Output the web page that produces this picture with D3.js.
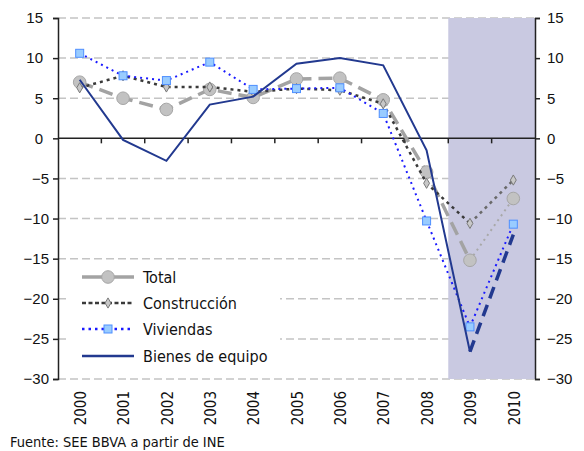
<!DOCTYPE html>
<html>
<head>
<meta charset="utf-8">
<script src="https://cdn.jsdelivr.net/npm/d3@7"></script>
<style>
  body { margin: 0; background: #fff; }
  svg { font-family: "DejaVu Sans Condensed", "DejaVu Sans", sans-serif; font-stretch: condensed; }
</style>
</head>
<body>
<svg width="584" height="451"></svg>
<script>
// data
var years = ["2000", "2001", "2002", "2003", "2004", "2005", "2006", "2007", "2008", "2009", "2010"];
var total = [7.0, 5.0, 3.6, 6.1, 5.1, 7.4, 7.5, 4.8, -4.2, -15.2, -7.5];
var construccion = [6.3, 7.8, 6.4, 6.4, 5.8, 6.2, 6.0, 4.3, -5.6, -10.6, -5.2];
var viviendas = [10.6, 7.8, 7.2, 9.5, 6.1, 6.2, 6.3, 3.1, -10.3, -23.5, -10.7];
var bienes = [7.3, -0.2, -2.8, 4.2, 5.2, 9.3, 10.0, 9.1, -1.5, -26.6, -12.0];
var yTicks = [15, 10, 5, 0, -5, -10, -15, -20, -25, -30];
var shaded = ["2009", "2010"];

var svg = d3.select("svg");

var x = d3.scaleBand().domain(years).range([58, 535]);
var y = d3.scaleLinear().domain([-30, 15]).range([379, 18]);
var cx = function (i) { return x(years[i]) + x.bandwidth() / 2; };

// gridlines
svg.append("g")
    .selectAll("line")
    .data(yTicks.filter(function (d) { return d !== 0; }))
    .enter().append("line")
    .attr("x1", 58).attr("x2", 535)
    .attr("y1", function (d) { return y(d); })
    .attr("y2", function (d) { return y(d); })
    .attr("stroke", "#c4c4c4")
    .attr("stroke-width", 1.5)
    .attr("stroke-dasharray", "8,4");

// shaded forecast area
svg.append("rect")
    .attr("x", x(shaded[0]))
    .attr("y", y(15))
    .attr("width", x.bandwidth() * shaded.length)
    .attr("height", y(-30) - y(15))
    .attr("fill", "#c9c9e1");

// legend background (hides gridlines)
svg.append("rect")
    .attr("x", 66).attr("y", 263).attr("width", 214).attr("height", 106)
    .attr("fill", "#fff");

// axes
var yLeft = svg.append("g")
    .attr("transform", "translate(58,0)")
    .call(d3.axisLeft(y).tickValues(yTicks).tickSize(5).tickPadding(4));
yLeft.selectAll("text").attr("dx", function (d) { return d >= 0 ? -6 : 0; });

var yRight = svg.append("g")
    .attr("transform", "translate(535,0)")
    .call(d3.axisRight(y).tickValues(yTicks).tickSize(5).tickPadding(7));

var xAxis = svg.append("g")
    .attr("transform", "translate(0," + y(0) + ")")
    .call(d3.axisBottom(x).tickSize(0).tickFormat(""));
xAxis.selectAll("line.bnd")
    .data(years.slice(1))
    .enter().append("line")
    .attr("class", "bnd")
    .attr("x1", function (d) { return x(d); })
    .attr("x2", function (d) { return x(d); })
    .attr("y1", 0).attr("y2", 5)
    .attr("stroke", "#222").attr("stroke-width", 1.5);

[yLeft, yRight, xAxis].forEach(function (g) {
    g.select(".domain").attr("stroke", "#222").attr("stroke-width", 1.5);
    g.selectAll(".tick line").attr("stroke", "#222").attr("stroke-width", 1.5);
    g.selectAll("text").attr("font-size", 15).attr("fill", "#111")
        .style("font-family", "inherit");
});
xAxis.select(".domain").attr("d", "M58,0H535");

// rotated year labels
svg.append("g")
    .selectAll("text")
    .data(years)
    .enter().append("text")
    .attr("transform", function (d) {
        return "translate(" + (x(d) + x.bandwidth() / 2 + 1) + ",391) rotate(-90)";
    })
    .attr("text-anchor", "end")
    .attr("dy", "0.35em")
    .attr("font-size", 15)
    .attr("fill", "#111")
    .text(function (d) { return d; });

// series
var line = d3.line()
    .x(function (d) { return cx(d.i); })
    .y(function (d) { return y(d.v); });

function pts(arr) { return arr.map(function (v, i) { return { i: i, v: v }; }); }

function drawSeries(arr, main, last) {
    var p = pts(arr);
    svg.append("path").datum(p.slice(0, 10))
        .attr("d", line).attr("fill", "none")
        .attr("stroke", main.color).attr("stroke-width", main.width)
        .attr("stroke-dasharray", main.dash);
    svg.append("path").datum(p.slice(9))
        .attr("d", line).attr("fill", "none")
        .attr("stroke", last.color).attr("stroke-width", last.width)
        .attr("stroke-dasharray", last.dash);
    return p;
}

var pTotal = drawSeries(total,
    { color: "#a3a3a3", width: 3.5, dash: "14,7" },
    { color: "#a8a8a8", width: 2, dash: "2,4" });
svg.append("g").selectAll("circle").data(pTotal).enter().append("circle")
    .attr("cx", function (d) { return cx(d.i); })
    .attr("cy", function (d) { return y(d.v); })
    .attr("r", 6.3)
    .attr("fill", "#c2c2c2").attr("stroke", "#a6a6a6").attr("stroke-width", 1);

var pCons = drawSeries(construccion,
    { color: "#3a3a3a", width: 2.5, dash: "3,4" },
    { color: "#6a6a6a", width: 2.5, dash: "3,4" });
var diamond = d3.symbol().type(d3.symbolDiamond).size(30);
svg.append("g").selectAll("path").data(pCons).enter().append("path")
    .attr("d", diamond)
    .attr("transform", function (d) { return "translate(" + cx(d.i) + "," + y(d.v) + ")"; })
    .attr("fill", "#c8c8c8").attr("stroke", "#7a7a7a").attr("stroke-width", 1);

var pViv = drawSeries(viviendas,
    { color: "#1a1aff", width: 2, dash: "2,4" },
    { color: "#1a1aff", width: 2, dash: "2,4" });
svg.append("g").selectAll("rect").data(pViv).enter().append("rect")
    .attr("x", function (d) { return cx(d.i) - 4; })
    .attr("y", function (d) { return y(d.v) - 4; })
    .attr("width", 8).attr("height", 8)
    .attr("fill", "#99ccff").attr("stroke", "#4f8fff").attr("stroke-width", 1);

drawSeries(bienes,
    { color: "#22398f", width: 2, dash: null },
    { color: "#22398f", width: 3.5, dash: "12,7" });

// legend
var legendItems = ["Total", "Construcción", "Viviendas", "Bienes de equipo"];
var legendY = [277, 303, 329, 356];
var lg = svg.append("g");
legendItems.forEach(function (name, k) {
    var ly = legendY[k];
    var l = lg.append("line").attr("x1", 82).attr("x2", 134).attr("y1", ly).attr("y2", ly);
    if (k === 0) {
        l.attr("stroke", "#a3a3a3").attr("stroke-width", 3.5);
        lg.append("circle").attr("cx", 108).attr("cy", ly).attr("r", 6.3)
            .attr("fill", "#c2c2c2").attr("stroke", "#a6a6a6");
    } else if (k === 1) {
        l.attr("stroke", "#3a3a3a").attr("stroke-width", 2.5).attr("stroke-dasharray", "4,2.5");
        lg.append("path").attr("d", diamond).attr("transform", "translate(108," + ly + ")")
            .attr("fill", "#c8c8c8").attr("stroke", "#7a7a7a");
    } else if (k === 2) {
        l.attr("stroke", "#1a1aff").attr("stroke-width", 2.5).attr("stroke-dasharray", "2.5,4");
        lg.append("rect").attr("x", 104).attr("y", ly - 4).attr("width", 8).attr("height", 8)
            .attr("fill", "#99ccff").attr("stroke", "#4f8fff");
    } else {
        l.attr("stroke", "#22398f").attr("stroke-width", 2.5);
    }
    lg.append("text").attr("x", 143).attr("y", ly).attr("dy", "0.36em")
        .attr("font-size", 16).attr("fill", "#111").text(name);
});

// source note
svg.append("text")
    .attr("x", 10).attr("y", 447)
    .attr("font-size", 14.5)
    .attr("fill", "#111")
    .text("Fuente: SEE BBVA a partir de INE");
</script>
</body>
</html>
